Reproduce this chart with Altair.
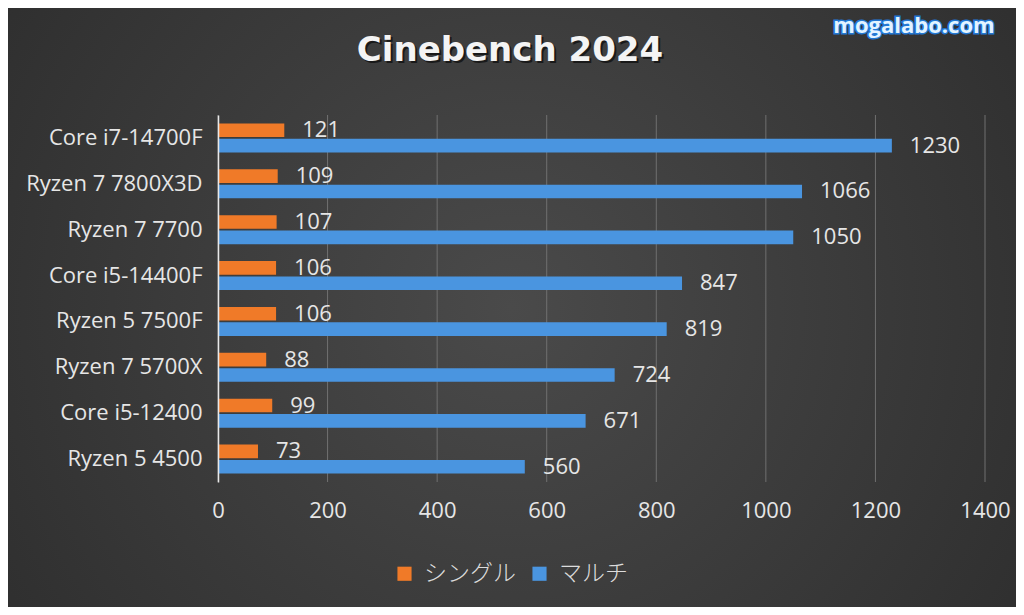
import altair as alt
import pandas as pd

cpus = ["Core i7-14700F", "Ryzen 7 7800X3D", "Ryzen 7 7700", "Core i5-14400F",
        "Ryzen 5 7500F", "Ryzen 7 5700X", "Core i5-12400", "Ryzen 5 4500"]
single = [121, 109, 107, 106, 106, 88, 99, 73]
multi = [1230, 1066, 1050, 847, 819, 724, 671, 560]
series = ["シングル", "マルチ"]
colors = ["#f07a28", "#4a95e0"]
ticks = [0, 200, 400, 600, 800, 1000, 1200, 1400]
title_text = "Cinebench 2024"
watermark = "mogalabo.com"

rows = []
for c, s, m in zip(cpus, single, multi):
    rows.append({"cpu": c, "series": series[0], "score": s})
    rows.append({"cpu": c, "series": series[1], "score": m})
df = pd.DataFrame(rows)
tick_df = pd.DataFrame({"t": ticks})
one = pd.DataFrame({"a": [0]})

W, H = 767, 367
PL, PT, PR, PB = 210, 107, 31, 125

FONT = "Open Sans"
LBL = "#e6e6e6"

xscale = alt.Scale(domain=[0, 1400], nice=False, zero=True)
xaxis = alt.Axis(values=ticks, format="d", grid=False, domain=False, ticks=False,
                 labelFontSize=22, labelColor=LBL, labelFont=FONT, labelFlush=False,
                 labelPadding=18, title=None, zindex=1)
yscale = alt.Scale(paddingInner=0.37, paddingOuter=0.185)
yaxis = alt.Axis(title=None, ticks=False, grid=False, domainColor="#e8e8e8",
                 domainWidth=1.5, labelFontSize=22, labelColor=LBL,
                 labelFont=FONT, labelPadding=16, labelLimit=300, zindex=1)
yoff = alt.YOffset("series:N", sort=series, scale=alt.Scale(paddingInner=0.12))

bg = alt.Chart(one).mark_rect(
    fill={"gradient": "radial", "x1": 0.5, "y1": 0.5, "r1": 0,
          "x2": 0.5, "y2": 0.5, "r2": 0.75,
          "stops": [{"offset": 0, "color": "#4a4a4a"},
                    {"offset": 1, "color": "#282828"}]}
).encode(x=alt.value(-PL), x2=alt.value(W + PR), y=alt.value(-PT), y2=alt.value(H + PB))

grid = alt.Chart(tick_df).mark_rule(color="#707070", strokeWidth=1).encode(
    x=alt.X("t:Q", scale=xscale, axis=xaxis)
)

bars = alt.Chart(df).mark_bar().encode(
    y=alt.Y("cpu:N", sort=cpus, scale=yscale, axis=yaxis),
    x=alt.X("score:Q", scale=xscale, axis=xaxis),
    yOffset=yoff,
    color=alt.Color("series:N", sort=series,
                    scale=alt.Scale(domain=series, range=colors),
                    legend=alt.Legend(orient="none", legendX=175, legendY=447,
                                      direction="horizontal", title=None,
                                      symbolType="square", symbolSize=200,
                                      symbolStrokeWidth=0, labelFontSize=23,
                                      labelColor="#dcdcdc",
                                      labelFont="Noto Sans CJK JP",
                                      labelFontWeight=300,
                                      labelOffset=8, columnPadding=12,
                                      zindex=1)),
)

labels = alt.Chart(df).mark_text(align="left", baseline="middle", dx=18,
                                 fontSize=22, font=FONT, color=LBL).encode(
    y=alt.Y("cpu:N", sort=cpus, scale=yscale, axis=yaxis),
    x=alt.X("score:Q", scale=xscale, axis=xaxis),
    yOffset=yoff,
    text=alt.Text("score:Q"),
)

TF = "DejaVu Sans"
title_shadow = alt.Chart(one).mark_text(
    text=title_text, fontSize=34, fontWeight="bold", font=TF,
    color="#111111", opacity=0.8, align="center", baseline="middle"
).encode(x=alt.value(294), y=alt.value(-62))
title_main = alt.Chart(one).mark_text(
    text=title_text, fontSize=34, fontWeight="bold", font=TF,
    color="#f4f4f4", align="center", baseline="middle"
).encode(x=alt.value(292), y=alt.value(-64))

wm_glow = alt.Chart(one).mark_text(
    text=watermark, fontSize=22, fontWeight="bold", font=FONT,
    color="#1e8cff", stroke="#1e8cff", strokeWidth=3, strokeOpacity=0.8,
    align="center", baseline="middle"
).encode(x=alt.value(696), y=alt.value(-89))
wm = alt.Chart(one).mark_text(
    text=watermark, fontSize=22, fontWeight="bold", font=FONT,
    color="#e4f4ff", align="center", baseline="middle"
).encode(x=alt.value(696), y=alt.value(-89))

chart = alt.layer(bg, grid, bars, labels, title_shadow, title_main, wm_glow, wm).properties(
    width=W, height=H,
    autosize=alt.AutoSizeParams(type="none"),
    padding={"left": PL, "top": PT, "right": PR, "bottom": PB},
    background="#333333",
).configure_view(stroke=None)

chart.save("out.html", embed_options={"renderer": "svg", "actions": False})
